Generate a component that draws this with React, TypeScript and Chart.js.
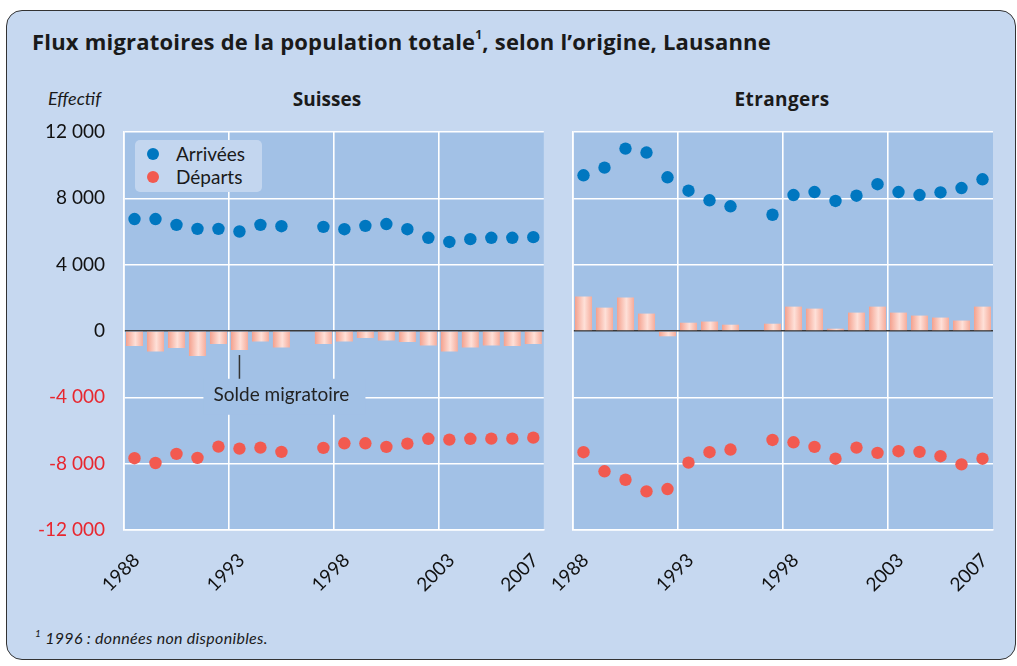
import React, { useEffect, useRef } from "react";
import { Chart, registerables } from "chart.js";

Chart.register(...registerables);

const years = ["1988","1989","1990","1991","1992","1993","1994","1995","1996","1997","1998","1999","2000","2001","2002","2003","2004","2005","2006","2007"];
const tickYears = ["1988", "1993", "1998", "2003", "2007"];
const yTicks = [-12000, -8000, -4000, 0, 4000, 8000, 12000];

const suissesArrivees = [6750,6750,6400,6160,6160,6000,6400,6320,null,6280,6140,6340,6450,6140,5620,5370,5540,5620,5620,5660];
const suissesDeparts = [-7670,-7960,-7410,-7650,-6970,-7090,-7030,-7290,null,-7050,-6770,-6770,-6990,-6790,-6500,-6550,-6500,-6490,-6490,-6430];
const suissesSolde = [-910,-1230,-1030,-1510,-790,-1150,-630,-990,null,-790,-630,-420,-570,-670,-870,-1230,-990,-870,-910,-790];

const etrangersArrivees = [9390,9850,11000,10760,9270,8460,7880,7520,null,7010,8200,8380,7840,8160,8850,8380,8200,8360,8620,9150];
const etrangersDeparts = [-7310,-8460,-8970,-9670,-9530,-7940,-7310,-7150,null,-6570,-6710,-6990,-7700,-7030,-7350,-7250,-7290,-7550,-8040,-7700];
const etrangersSolde = [2080,1410,2020,1050,-320,500,570,380,null,440,1470,1350,140,1110,1470,1110,930,810,630,1470];

const FONT = "Lato, 'Open Sans', sans-serif";
const BOLD_FONT = "'Open Sans', Lato, sans-serif";
const PLOT_BG = "#a2c1e6";
const FRAME_BG = "#c6d8f0";
const BLUE = "#0077c0";
const RED = "#f25a50";

const fmt = (v: number) => {
  const s = Math.abs(v).toString().replace(/\B(?=(\d{3})+(?!\d))/g, " ");
  return (v < 0 ? "-" : "") + s;
};

const bgPlugin = {
  id: "plotBg",
  beforeDraw(chart: any) {
    const { ctx, chartArea } = chart;
    if (!chartArea) return;
    ctx.save();
    ctx.fillStyle = PLOT_BG;
    ctx.fillRect(chartArea.left, chartArea.top, chartArea.right - chartArea.left, chartArea.bottom - chartArea.top);
    ctx.restore();
  },
};

const soldePlugin = {
  id: "soldeNote",
  afterDraw(chart: any) {
    const { ctx } = chart;
    const xs = chart.scales.x;
    const ys = chart.scales.y;
    const lx = xs.getPixelForValue(5);
    const cx = xs.getPixelForValue(7);
    const ty = ys.getPixelForValue(-3850);
    ctx.save();
    ctx.fillStyle = PLOT_BG;
    ctx.fillRect(cx - 78, ys.getPixelForValue(-2880), 162, 36);
    ctx.strokeStyle = "#333";
    ctx.lineWidth = 1.5;
    ctx.beginPath();
    ctx.moveTo(lx, ys.getPixelForValue(-1450));
    ctx.lineTo(lx, ys.getPixelForValue(-2880));
    ctx.stroke();
    ctx.fillStyle = "#222";
    ctx.font = `19px ${FONT}`;
    ctx.textAlign = "center";
    ctx.textBaseline = "middle";
    ctx.fillText("Solde migratoire", cx, ty);
    ctx.restore();
  },
};

function barGradient(ctx: any) {
  const c = ctx.chart;
  const xs = c.scales && c.scales.x;
  if (!xs || ctx.dataIndex === undefined || !c.chartArea) return "#f8b9a9";
  const cx = xs.getPixelForValue(ctx.dataIndex);
  const w = 17;
  const g = c.ctx.createLinearGradient(cx - w / 2, 0, cx + w / 2, 0);
  g.addColorStop(0, "#f4a18e");
  g.addColorStop(0.55, "#fee0d8");
  g.addColorStop(1, "#f6ac9b");
  return g;
}

function makeConfig(arr: (number | null)[], dep: (number | null)[], solde: (number | null)[], showY: boolean, yWidth: number, pad: any, extra: any[]) {
  return {
    type: "bar",
    data: {
      labels: years,
      datasets: [
        {
          type: "line",
          label: "Arrivées",
          data: arr,
          showLine: false,
          pointRadius: 6.2,
          pointHoverRadius: 6.2,
          pointBackgroundColor: BLUE,
          pointBorderWidth: 0,
          borderColor: BLUE,
          order: 0,
        },
        {
          type: "line",
          label: "Départs",
          data: dep,
          showLine: false,
          pointRadius: 6.2,
          pointHoverRadius: 6.2,
          pointBackgroundColor: RED,
          pointBorderWidth: 0,
          borderColor: RED,
          order: 0,
        },
        {
          type: "bar",
          label: "Solde migratoire",
          data: solde,
          backgroundColor: barGradient,
          borderWidth: 0,
          barPercentage: 0.81,
          categoryPercentage: 1,
          order: 1,
        },
      ],
    },
    options: {
      responsive: false,
      animation: false,
      events: [],
      layout: { padding: pad },
      plugins: { legend: { display: false }, tooltip: { enabled: false } },
      scales: {
        x: {
          offset: true,
          afterFit(s: any) {
            s.height = 70;
            s.paddingLeft = 0;
            s.paddingRight = 0;
          },
          grid: {
            offset: true,
            drawTicks: false,
            color: (c: any) => ([0, 5, 10, 15, 20].includes(c.index) ? "#ffffff" : "rgba(0,0,0,0)"),
            lineWidth: 1.6,
          },
          border: { display: true, color: "#ffffff", width: 1.6 },
          ticks: {
            autoSkip: false,
            minRotation: 45,
            maxRotation: 45,
            padding: 19,
            labelOffset: 2,
            color: "#111",
            font: { family: FONT, size: 19 },
            callback: (_v: any, i: number) => (tickYears.includes(years[i]) ? years[i] : ""),
          },
        },
        y: {
          min: yTicks[0],
          max: yTicks[yTicks.length - 1],
          afterFit(s: any) {
            s.width = yWidth;
            s.paddingTop = 0;
            s.paddingBottom = 0;
          },
          afterBuildTicks(s: any) { s.ticks = yTicks.map((v) => ({ value: v })); },
          grid: {
            drawTicks: false,
            color: (c: any) => (c.tick && c.tick.value === 0 ? "#3a3a3a" : "#ffffff"),
            lineWidth: (c: any) => (c.tick && c.tick.value === 0 ? 1.6 : 1.4),
          },
          border: { display: true, color: "#ffffff", width: 1.6 },
          ticks: {
            display: showY,
            padding: 19,
            color: (c: any) => (c.tick && c.tick.value < 0 ? "#e8262e" : "#111"),
            font: { family: FONT, size: 19 },
            callback: (v: any) => fmt(Number(v)),
          },
        },
      },
    },
    plugins: [bgPlugin, ...extra],
  };
}

function Panel(props: { left: number; top: number; width: number; height: number; cfg: () => any }) {
  const ref = useRef<HTMLCanvasElement | null>(null);
  useEffect(() => {
    if (!ref.current) return;
    const chart = new Chart(ref.current, props.cfg());
    return () => chart.destroy();
  }, []);
  return (
    <canvas
      ref={ref}
      width={props.width}
      height={props.height}
      style={{ position: "absolute", left: props.left, top: props.top, width: props.width, height: props.height, display: "block" }}
    />
  );
}

export default function App() {
  return (
    <div style={{ position: "absolute", left: 0, top: 0, width: 1017, height: 666, background: "#fff", fontFamily: FONT, color: "#1a1a1a", overflow: "hidden" }}>
      <div style={{ position: "absolute", left: 6, top: 10, width: 1010, height: 650, background: FRAME_BG, border: "1.5px solid #333", borderRadius: 16, boxSizing: "border-box" }} />
      <div style={{ position: "absolute", left: 32, top: 28, fontFamily: BOLD_FONT, fontSize: 22, fontWeight: 700, whiteSpace: "nowrap", lineHeight: "26px", letterSpacing: 0.2 }}>
        Flux migratoires de la population totale<sup style={{ fontSize: 12, verticalAlign: "top", lineHeight: "14px" }}>1</sup>, selon l’origine, Lausanne
      </div>
      <div style={{ position: "absolute", left: 48, top: 88, fontSize: 18, fontStyle: "italic", lineHeight: "20px" }}>Effectif</div>
      <div style={{ position: "absolute", left: 227, top: 88, width: 200, textAlign: "center", fontFamily: BOLD_FONT, fontSize: 19, fontWeight: 700, lineHeight: "22px" }}>Suisses</div>
      <div style={{ position: "absolute", left: 682, top: 88, width: 200, textAlign: "center", fontFamily: BOLD_FONT, fontSize: 19, fontWeight: 700, lineHeight: "22px", letterSpacing: 0.4 }}>Etrangers</div>
      <Panel left={30} top={120} width={520} height={480} cfg={() => makeConfig(suissesArrivees, suissesDeparts, suissesSolde, true, 94, { top: 12, right: 6, left: 0, bottom: 0 }, [soldePlugin])} />
      <Panel left={550} top={120} width={460} height={480} cfg={() => makeConfig(etrangersArrivees, etrangersDeparts, etrangersSolde, false, 23, { top: 12, right: 17, left: 0, bottom: 0 }, [])} />
      <div style={{ position: "absolute", left: 135, top: 140, width: 127, height: 52, background: "#c3d6ef", borderRadius: 5 }}>
        <div style={{ position: "absolute", left: 12, top: 8, width: 12, height: 12, borderRadius: 6, background: BLUE }} />
        <div style={{ position: "absolute", left: 41, top: 3, fontSize: 19, lineHeight: "22px", whiteSpace: "nowrap" }}>Arrivées</div>
        <div style={{ position: "absolute", left: 12, top: 31, width: 12, height: 12, borderRadius: 6, background: RED }} />
        <div style={{ position: "absolute", left: 41, top: 26, fontSize: 19, lineHeight: "22px", whiteSpace: "nowrap" }}>Départs</div>
      </div>
      <div style={{ position: "absolute", left: 35, top: 628, fontSize: 16, fontStyle: "italic", lineHeight: "20px", whiteSpace: "nowrap", letterSpacing: 0.3 }}>
        <sup style={{ fontSize: 10, verticalAlign: "top", lineHeight: "10px" }}>1</sup> 1996 : données non disponibles.
      </div>
    </div>
  );
}
